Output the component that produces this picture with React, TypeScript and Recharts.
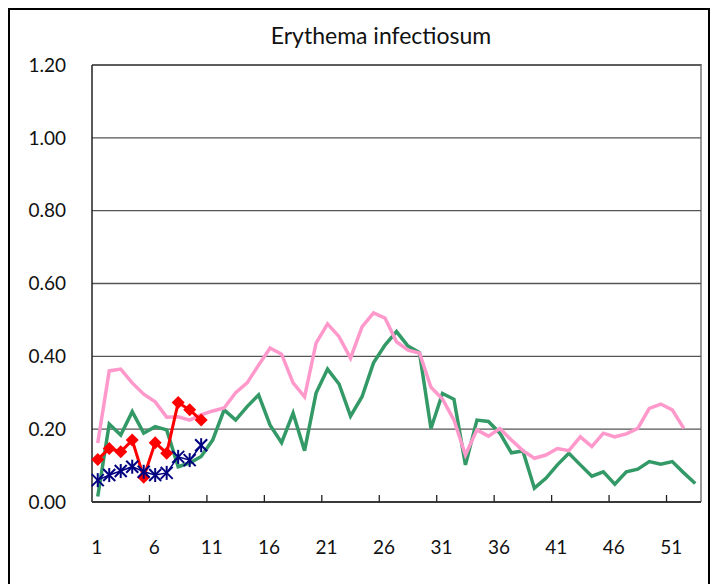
import React from "react";
import { LineChart, Line, XAxis, YAxis, CartesianGrid } from "recharts";

// week numbers on the category axis
const weeks = [
  1, 2, 3, 4, 5, 6, 7, 8, 9, 10, 11, 12, 13, 14, 15, 16, 17, 18, 19, 20, 21, 22, 23, 24, 25, 26, 27,
  28, 29, 30, 31, 32, 33, 34, 35, 36, 37, 38, 39, 40, 41, 42, 43, 44, 45, 46, 47, 48, 49, 50, 51, 52, 53,
];

const pinkVals = [
  0.162, 0.36, 0.365, 0.327, 0.296, 0.275, 0.233, 0.234, 0.225, 0.239, 0.25, 0.258, 0.3, 0.327, 0.376,
  0.423, 0.406, 0.327, 0.289, 0.436, 0.489, 0.454, 0.395, 0.481, 0.519, 0.505, 0.44, 0.417, 0.409,
  0.315, 0.283, 0.225, 0.129, 0.198, 0.181, 0.202, 0.17, 0.141, 0.12, 0.129, 0.147, 0.141, 0.179,
  0.152, 0.189, 0.179, 0.187, 0.202, 0.257, 0.269, 0.253, 0.202,
];

const greenVals = [
  0.015, 0.214, 0.184, 0.248, 0.189, 0.207, 0.198, 0.097, 0.107, 0.125, 0.17, 0.253, 0.225, 0.262,
  0.294, 0.211, 0.163, 0.244, 0.141, 0.299, 0.365, 0.324, 0.236, 0.289, 0.382, 0.431, 0.468, 0.428,
  0.41, 0.202, 0.298, 0.282, 0.102, 0.225, 0.221, 0.189, 0.135, 0.14, 0.038, 0.065, 0.102, 0.134,
  0.102, 0.071, 0.083, 0.049, 0.083, 0.09, 0.111, 0.104, 0.111, 0.08, 0.051,
];

const redVals = [0.117, 0.147, 0.138, 0.17, 0.068, 0.163, 0.134, 0.273, 0.253, 0.225];

const blueVals = [0.06, 0.074, 0.085, 0.097, 0.083, 0.074, 0.08, 0.124, 0.115, 0.156];

const yTicks = [0, 0.2, 0.4, 0.6, 0.8, 1.0, 1.2];

const data = weeks.map((w, i) => ({
  week: w,
  pink: pinkVals[i] ?? null,
  green: greenVals[i] ?? null,
  red: redVals[i] ?? null,
  blue: blueVals[i] ?? null,
}));

const FONT = "Lato, 'Liberation Sans', sans-serif";
const PLOT = { left: 92, top: 65, right: 701, bottom: 502 };
const BAND = (PLOT.right - PLOT.left) / weeks.length;

const Diamond = (props: any) => {
  const { cx, cy } = props;
  if (cx == null || cy == null) return null;
  const r = 6.5;
  return (
    <path
      key={props.index}
      d={`M${cx},${cy - r}L${cx + r},${cy}L${cx},${cy + r}L${cx - r},${cy}Z`}
      fill="#FF0000"
    />
  );
};

const Star = (props: any) => {
  const { cx, cy } = props;
  if (cx == null || cy == null) return null;
  const r = 6;
  return (
    <g key={props.index} stroke="#000080" strokeWidth={2}>
      <line x1={cx - r} y1={cy - r} x2={cx + r} y2={cy + r} />
      <line x1={cx - r} y1={cy + r} x2={cx + r} y2={cy - r} />
      <line x1={cx} y1={cy - r - 1} x2={cx} y2={cy + r + 1} />
    </g>
  );
};

const WeekTick = (props: any) => {
  const { x, payload } = props;
  const w = Number(payload.value);
  if ((w - 1) % 5 !== 0) return null;
  const bx = x - BAND / 2;
  return (
    <g>
      {w > 1 && <line x1={bx} x2={bx} y1={PLOT.bottom} y2={PLOT.bottom - 7} stroke="#222" strokeWidth={1.3} />}
      <text x={x - 1} y={PLOT.bottom + 52} textAnchor="middle" fontSize={19} fill="#111" fontFamily={FONT}>
        {w}
      </text>
    </g>
  );
};

export default function App() {
  return (
    <div style={{ position: "absolute", left: 0, top: 0, width: 718, height: 584, overflow: "hidden", background: "#fff" }}>
      <div
        style={{
          position: "absolute", left: 8, top: 8, width: 702, height: 620,
          border: "2px solid #000", boxSizing: "border-box",
        }}
      />
      <div
        style={{
          position: "absolute", left: PLOT.left, top: PLOT.top - 1, width: PLOT.right - PLOT.left + 1,
          height: PLOT.bottom - PLOT.top + 1, borderTop: "2px solid #777", borderRight: "2px solid #9a9a9a",
          boxSizing: "border-box",
        }}
      />
      <div
        style={{
          position: "absolute", left: 0, top: 21, width: 762, textAlign: "center",
          fontFamily: FONT, fontSize: 23, color: "#111",
        }}
      >
        Erythema infectiosum
      </div>
      <div style={{ position: "absolute", left: 0, top: 0 }}>
        <LineChart
          width={718}
          height={584}
          data={data}
          margin={{ top: PLOT.top, right: 718 - PLOT.right, bottom: 584 - PLOT.bottom - 60, left: 0 }}
        >
          <CartesianGrid vertical={false} stroke="#555" strokeWidth={1.4} />
          <XAxis
            dataKey="week"
            interval={0}
            height={60}
            tickSize={0}
            tickLine={false}
            tick={<WeekTick />}
            padding={{ left: BAND / 2, right: BAND / 2 }}
            axisLine={{ stroke: "#222", strokeWidth: 1.5 }}
          />
          <YAxis
            width={PLOT.left}
            domain={[0, 1.2]}
            ticks={yTicks}
            tickFormatter={(v: number) => v.toFixed(2)}
            tickLine={false}
            tickSize={0}
            tickMargin={26}
            axisLine={{ stroke: "#222", strokeWidth: 1.5 }}
            tick={{ fontSize: 19, fill: "#111", fontFamily: FONT }}
          />
          <Line dataKey="green" stroke="#339966" strokeWidth={3.5} dot={false} isAnimationActive={false} />
          <Line dataKey="pink" stroke="#FF99CC" strokeWidth={3.5} dot={false} isAnimationActive={false} />
          <Line dataKey="red" stroke="#FF0000" strokeWidth={3} dot={<Diamond />} isAnimationActive={false} />
          <Line dataKey="blue" stroke="#000080" strokeWidth={1.5} dot={<Star />} isAnimationActive={false} />
        </LineChart>
      </div>
    </div>
  );
}
